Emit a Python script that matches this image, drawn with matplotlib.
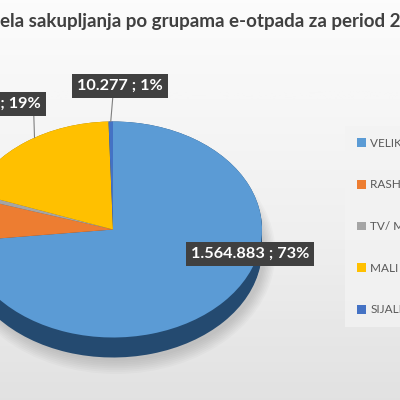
"""Pie chart of e-waste collection by group."""
import matplotlib

matplotlib.use("Agg")
import matplotlib.pyplot as plt
from matplotlib.patches import Patch, Ellipse
import numpy as np

CATEGORIES = [
    "VELIKI KUĆNI APARATI",
    "RASHLADNI UREĐAJI",
    "TV/ MONITORI",
    "MALI KUĆNI APARATI",
    "SIJALICE",
]
VALUES = [1564883, 140000, 15000, 405213, 10277]
LABELS = ["1.564.883 ; 73%", "", "", "405.213 ; 19%", "10.277 ; 1%"]
TITLE = "ela sakupljanja po grupama e-otpada za period 20"

COLORS = ["#5b9bd5", "#ed7d31", "#a5a5a5", "#ffc000", "#4472c4"]
SIDE_COLORS = ["#244a70", "#8a4216", "#5f5f5f", "#9a7400", "#223f78"]

W, H = 400, 400


def px(x, y):
    """Pixel position (from top left) to figure fraction."""
    return x / W, 1 - y / H


if __name__ == "__main__":
    plt.rcParams["font.family"] = ["Lato", "DejaVu Sans"]
    fig = plt.figure(figsize=(4, 4), dpi=100)

    # background gradient
    bg = fig.add_axes([0, 0, 1, 1])
    grad = np.linspace(0, 1, 256)[:, None]
    bg.imshow(grad, aspect="auto", cmap="Greys", vmin=-0.15, vmax=5.5,
              extent=[0, 1, 0, 1], origin="upper")
    bg.axis("off")

    ax = fig.add_axes([0, 0, 1, 1])
    ax.patch.set_alpha(0)

    # ellipse layout of the tilted pie
    cx, cy, rx, ry, depth = 113, 229.5, 149, 108, 20

    # soft shadow under the pie
    for k in range(8):
        ax.add_patch(Ellipse((0.02, -depth / ry - 0.03), 2.0 + 0.02 * k,
                             2.0 + 0.035 * k, facecolor="black",
                             edgecolor="none", alpha=0.018, zorder=0))

    # side of the 3d pie
    for d in np.linspace(depth / ry, 0, 14):
        ax.pie(VALUES, colors=SIDE_COLORS, startangle=90, counterclock=False,
               center=(0, -d), wedgeprops=dict(linewidth=0))
    wedges, _ = ax.pie(VALUES, colors=COLORS, startangle=90,
                       counterclock=False, wedgeprops=dict(linewidth=0))

    ax.set_aspect("auto")
    ax.set_xlim((0 - cx) / rx, (W - cx) / rx)
    ax.set_ylim(-(H - cy) / ry, cy / ry)
    ax.axis("off")

    # data labels: (x, y, align, leader start on box, where on the slice)
    box = dict(boxstyle="square,pad=0.3", facecolor="#404040", edgecolor="none")
    label_pos = {0: (250, 254, "center", None, 0.5),
                 3: (41, 104, "right", (0.93, 0), 0.44),
                 4: (120, 86, "center", (0.42, 0), 0.5)}
    for i, (x, y, ha, rel, frac) in label_pos.items():
        w = wedges[i]
        ang = np.deg2rad(w.theta1 + frac * (w.theta2 - w.theta1))
        arrow = None
        if rel is not None:
            arrow = dict(arrowstyle="-", color="#7f7f7f", lw=0.8,
                         shrinkA=0, shrinkB=0, relpos=rel)
        ax.annotate(LABELS[i], xy=(np.cos(ang), np.sin(ang)),
                    xytext=px(x, y), textcoords="figure fraction",
                    ha=ha, va="center", fontsize=11.7, fontweight="bold",
                    color="white", bbox=box, arrowprops=arrow)

    fig.text(*px(0, 22), TITLE, ha="left", va="center", fontsize=13.5,
             fontweight="bold", color="#404040")

    handles = [Patch(facecolor=c, edgecolor="none") for c in COLORS]
    leg = fig.legend(handles, CATEGORIES, loc="upper left",
                     bbox_to_anchor=px(339, 120), fontsize=8.5,
                     labelcolor="#595959", frameon=True, fancybox=False,
                     handlelength=0.75, handleheight=0.75, handletextpad=0.4,
                     labelspacing=2.6, borderpad=1.0)
    leg.get_frame().set_facecolor("#f3f3f3")
    leg.get_frame().set_edgecolor("none")

    fig.savefig("out.png", dpi=100)
